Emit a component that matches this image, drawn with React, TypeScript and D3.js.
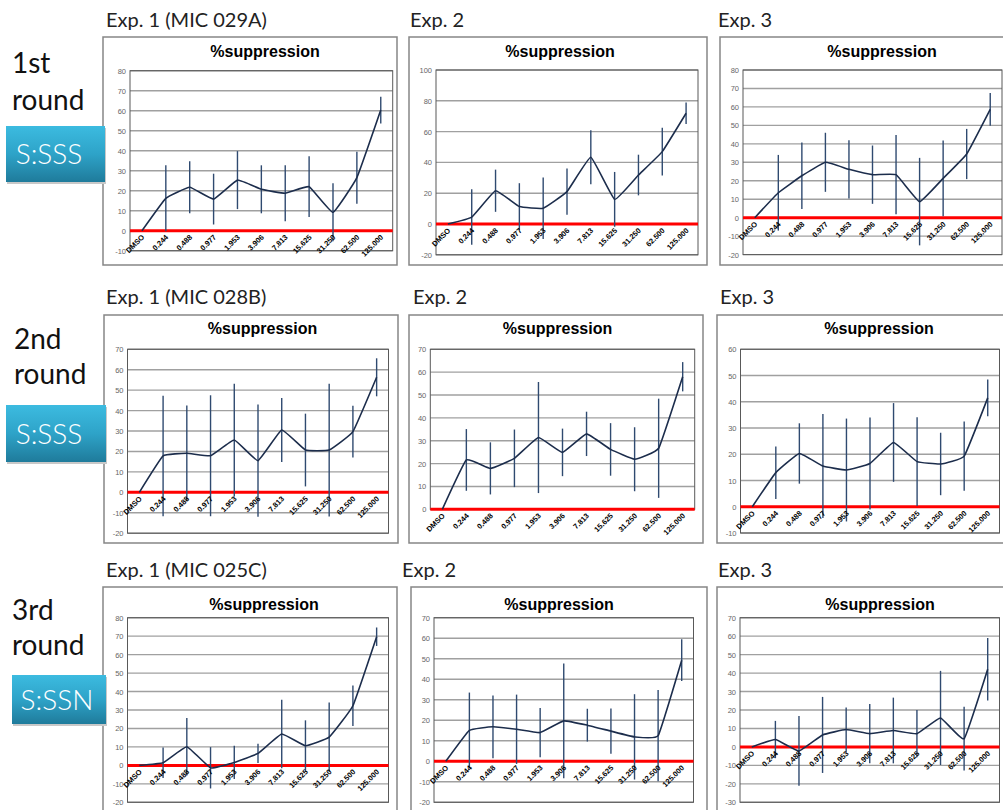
import React from "react";
import * as d3 from "d3";

// ---------- DATA ----------
const categories = ["DMSO", "0.244", "0.488", "0.977", "1.953", "3.906", "7.813", "15.625", "31.250", "62.500", "125.000"];

const chartTitle = "%suppression";

const rowLabels = [["1st", "round"], ["2nd", "round"], ["3rd", "round"]];
const rowTags = ["S:SSS", "S:SSS", "S:SSN"];
const expHeaders = [
  ["Exp. 1 (MIC 029A)", "Exp. 2", "Exp. 3"],
  ["Exp. 1 (MIC 028B)", "Exp. 2", "Exp. 3"],
  ["Exp. 1 (MIC 025C)", "Exp. 2", "Exp. 3"],
];

// round 1
const r1e1Mean = [0, 16.2, 21.7, 15.8, 25.3, 20.7, 18.7, 22.0, 9.2, 26.5, 60.3];
const r1e1Err = [0, 16.5, 13.0, 12.7, 14.5, 12.0, 14.0, 15.2, 14.5, 13.0, 6.7];
const r1e2Mean = [0, 4.5, 21.6, 11.3, 10.2, 21.0, 43.3, 16.0, 31.8, 47.0, 71.9];
const r1e2Err = [0, 18.0, 13.7, 15.2, 20.0, 15.0, 17.5, 17.8, 13.2, 15.5, 7.0];
const r1e3Mean = [0, 13.5, 22.7, 30.0, 26.2, 23.3, 23.3, 8.7, 21.3, 34.5, 58.7];
const r1e3Err = [0, 20.5, 18.0, 16.0, 15.8, 15.8, 21.5, 23.7, 20.5, 13.6, 8.9];
// round 2
const r2e1Mean = [0, 17.8, 19.1, 17.9, 25.6, 15.5, 30.5, 20.7, 20.7, 29.7, 56.3];
const r2e1Err = [0, 29.5, 23.4, 29.6, 27.6, 27.5, 15.7, 17.8, 32.5, 12.7, 9.3];
const r2e2Mean = [0, 21.6, 17.9, 22.3, 31.4, 24.9, 33.0, 26.2, 21.9, 26.7, 58.0];
const r2e2Err = [0, 13.5, 11.4, 12.6, 24.3, 10.4, 9.7, 11.5, 14.0, 21.7, 6.4];
const r2e3Mean = [0, 13.0, 20.3, 15.5, 14.0, 16.5, 24.5, 17.2, 16.3, 19.3, 41.5];
const r2e3Err = [0, 10.0, 11.5, 19.8, 19.6, 17.5, 15.0, 16.9, 11.9, 13.2, 7.0];
// round 3
const r3e1Mean = [0, 1.4, 10.1, -1.3, 1.6, 6.5, 17.0, 10.6, 15.3, 32.3, 69.7];
const r3e1Err = [0, 8.3, 15.6, 11.2, 9.0, 5.2, 18.6, 13.8, 18.7, 11.0, 5.0];
const r3e2Mean = [0, 15.1, 16.8, 15.6, 14.0, 19.7, 17.6, 14.7, 11.9, 12.5, 49.3];
const r3e2Err = [0, 18.4, 15.3, 16.9, 12.0, 28.0, 8.0, 11.0, 20.8, 22.2, 10.2];
const r3e3Mean = [0, 4.0, -2.2, 6.5, 9.4, 7.2, 8.9, 7.2, 15.7, 4.5, 42.1];
const r3e3Err = [0, 10.1, 18.9, 20.6, 12.0, 16.1, 17.8, 12.8, 25.5, 17.3, 16.9];

// y-axis settings per panel: [min, max, step]
const r1Axes = [[-10, 80, 10], [-20, 100, 20], [-20, 80, 10]];
const r2Axes = [[-20, 70, 10], [0, 70, 10], [-10, 60, 10]];
const r3Axes = [[-20, 80, 10], [-20, 70, 10], [-30, 70, 10]];

// ---------- LAYOUT ----------
type Layout = {
  box: [number, number, number, number];
  plot: [number, number, number, number]; // left, top, right, bottom
  title: [number, number];
};

const layouts: Layout[][] = [
  [
    { box: [103, 37, 294, 228], plot: [130, 70.7, 392.7, 250.7], title: [265, 57] },
    { box: [409, 37, 298, 228], plot: [436, 70, 698, 254.8], title: [560, 57] },
    { box: [720, 37, 330, 228], plot: [743, 70, 1002, 254.6], title: [882, 57] },
  ],
  [
    { box: [104, 315, 294, 228], plot: [127.5, 349.3, 388.5, 533.2], title: [262.5, 334] },
    { box: [409, 315, 294, 228], plot: [430.3, 349.3, 694.7, 509.3], title: [557.5, 334] },
    { box: [717, 315, 330, 228], plot: [740.5, 349.3, 999.5, 533], title: [879, 334] },
  ],
  [
    { box: [103, 587, 294, 240], plot: [127.5, 617.7, 388.5, 802.3], title: [264, 610] },
    { box: [411, 587, 296, 240], plot: [434, 617.7, 693.5, 802.3], title: [559, 610] },
    { box: [717, 587, 330, 240], plot: [740, 617.7, 999.5, 802.3], title: [880, 610] },
  ],
];

const headerPos = [
  [[106, 27], [410, 27], [718, 27]],
  [[106, 304], [413, 304], [720, 304]],
  [[106, 577], [402, 577], [718, 577]],
];

const rowLabelPos = [
  [12, 73, 110],
  [14, 349, 384],
  [12, 620, 655],
];
const tagBoxes = [
  [6, 126, 99, 56],
  [6, 405, 100, 57],
  [12, 675, 94, 49],
];
const tagTextX = [49, 49, 57];

const panelData = [
  [[r1e1Mean, r1e1Err], [r1e2Mean, r1e2Err], [r1e3Mean, r1e3Err]],
  [[r2e1Mean, r2e1Err], [r2e2Mean, r2e2Err], [r2e3Mean, r2e3Err]],
  [[r3e1Mean, r3e1Err], [r3e2Mean, r3e2Err], [r3e3Mean, r3e3Err]],
];
const panelAxes = [r1Axes, r2Axes, r3Axes];

function Panel({ layout, mean, err, axis }: { layout: Layout; mean: number[]; err: number[]; axis: number[] }) {
  const [L, T, R, B] = layout.plot;
  const [ymin, ymax, step] = axis;
  const x = d3.scalePoint<string>().domain(categories).range([L, R]).padding(0.5);
  const y = d3.scaleLinear().domain([ymin, ymax]).range([B, T]);
  const ticks = d3.range(ymin, ymax + step / 2, step);
  const y0 = y(0);
  const line = d3
    .line<number>()
    .x((_, i) => x(categories[i])!)
    .y((d) => y(d))
    .curve(d3.curveCardinal.tension(0.7));
  const [bx, by, bw, bh] = layout.box;
  return (
    <g>
      <rect x={bx} y={by} width={bw} height={bh} fill="#fff" stroke="#868686" strokeWidth={1.5} />
      <text
        x={layout.title[0]}
        y={layout.title[1]}
        textAnchor="middle"
        fontFamily="'Liberation Sans', Arial, sans-serif"
        fontWeight="bold"
        fontSize={16}
        fill="#000"
      >
        {chartTitle}
      </text>
      {ticks.map((t) => (
        <g key={t}>
          <line x1={L} x2={R} y1={y(t)} y2={y(t)} stroke="#a0a0a0" strokeWidth={1.4} />
          <text
            x={L - 4}
            y={y(t) + 3}
            textAnchor="end"
            fontFamily="'Liberation Sans', Arial, sans-serif"
            fontSize={7.5}
            fill="#666666"
          >
            {t}
          </text>
        </g>
      ))}
      <rect x={L} y={T} width={R - L} height={B - T} fill="none" stroke="#595959" strokeWidth={1} />
      <line x1={L} x2={R} y1={y0} y2={y0} stroke="#ff0000" strokeWidth={3} />
      {mean.map((m, i) =>
        err[i] > 0 ? (
          <line
            key={i}
            x1={x(categories[i])!}
            x2={x(categories[i])!}
            y1={y(m + err[i])}
            y2={y(m - err[i])}
            stroke="#2f4a70"
            strokeWidth={1.4}
          />
        ) : null
      )}
      <path d={line(mean) || ""} fill="none" stroke="#1c2d4c" strokeWidth={1.6} />
      {categories.map((c) => (
        <text
          key={c}
          transform={`translate(${x(c)! + 3},${y0 + 7}) rotate(-45)`}
          textAnchor="end"
          fontFamily="'Liberation Sans', Arial, sans-serif"
          fontWeight="bold"
          fontSize={7.5}
          fill="#000"
        >
          {c}
        </text>
      ))}
    </g>
  );
}

export default function App() {
  return (
    <svg
      width={1003}
      height={810}
      style={{ position: "absolute", left: 0, top: 0, background: "#fff" }}
      xmlns="http://www.w3.org/2000/svg"
    >
      <defs>
        <linearGradient id="tagGrad" x1="0" y1="0" x2="0" y2="1">
          <stop offset="0" stopColor="#3cbbe0" />
          <stop offset="0.5" stopColor="#2ea3c8" />
          <stop offset="1" stopColor="#1f7b9b" />
        </linearGradient>
      </defs>
      <rect x={0} y={0} width={1003} height={810} fill="#fff" />
      {layouts.map((row, r) =>
        row.map((lay, c) => (
          <Panel
            key={`${r}-${c}`}
            layout={lay}
            mean={panelData[r][c][0]}
            err={panelData[r][c][1]}
            axis={panelAxes[r][c]}
          />
        ))
      )}
      {expHeaders.map((row, r) =>
        row.map((h, c) => (
          <text
            key={`h${r}${c}`}
            x={headerPos[r][c][0]}
            y={headerPos[r][c][1]}
            fontFamily="Lato, 'Open Sans', sans-serif"
            fontSize={20}
            fill="#222"
          >
            {h}
          </text>
        ))
      )}
      {rowLabels.map((lbl, r) => (
        <g key={`rl${r}`}>
          <text x={rowLabelPos[r][0]} y={rowLabelPos[r][1]} fontFamily="Lato, 'Open Sans', sans-serif" fontSize={28} fill="#111">
            {lbl[0]}
          </text>
          <text x={rowLabelPos[r][0]} y={rowLabelPos[r][2]} fontFamily="Lato, 'Open Sans', sans-serif" fontSize={28} fill="#111">
            {lbl[1]}
          </text>
        </g>
      ))}
      {rowTags.map((t, r) => {
        const [tx, ty, tw, th] = tagBoxes[r];
        return (
          <g key={`tag${r}`}>
            <rect x={tx + 1} y={ty + 2} width={tw} height={th} fill="#c8c8c8" />
            <rect x={tx} y={ty} width={tw} height={th} fill="url(#tagGrad)" />
            <text
              x={tagTextX[r]}
              y={ty + th / 2 + 10}
              textAnchor="middle"
              fontFamily="Lato, 'Open Sans', sans-serif"
              fontWeight={300}
              fontSize={28}
              fill="#fff"
            >
              {t}
            </text>
          </g>
        );
      })}
    </svg>
  );
}
